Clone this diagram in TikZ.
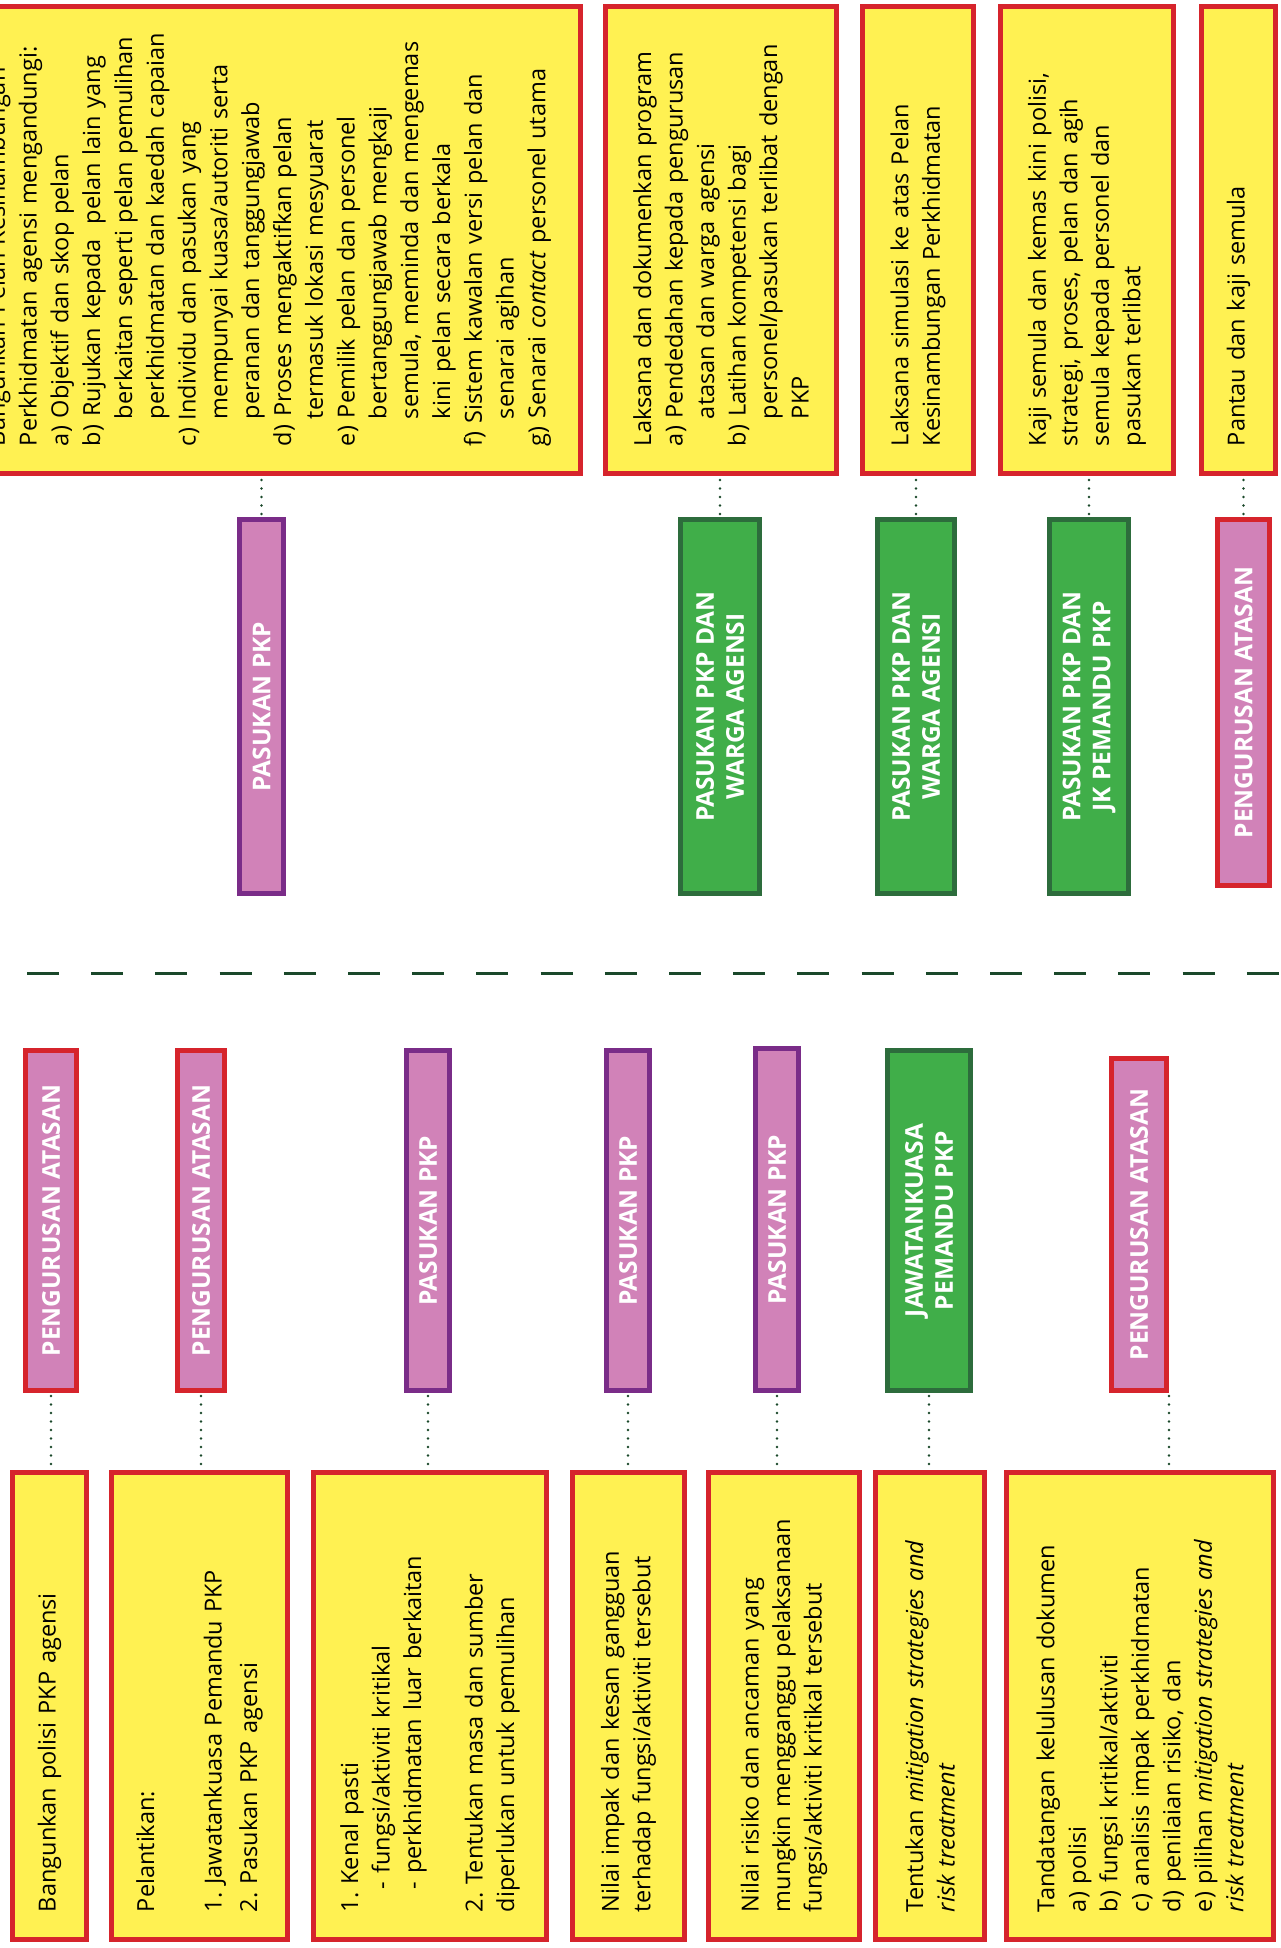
\documentclass[tikz,border=0pt]{standalone}
\usepackage{fontspec}
\setmainfont{Open Sans}
\usepackage{tikz}

\definecolor{boxred}{RGB}{214,36,44}
\definecolor{boxyel}{RGB}{255,241,82}
\definecolor{tagpink}{RGB}{209,130,184}
\definecolor{teampurple}{RGB}{122,44,136}
\definecolor{grpgreen}{RGB}{64,174,73}
\definecolor{grpdark}{RGB}{45,108,60}
\definecolor{linegreen}{RGB}{26,72,42}
\newcommand\onel[1]{\mbox{#1}}
\newcommand\subln[1]{\hspace*{27pt}\mbox{#1}}
\frenchspacing

\begin{document}
\begin{tikzpicture}[x=1pt,y=-1pt,
	every node/.style={rotate=90,inner sep=0pt,line width=5pt},
	box/.style={draw=boxred,fill=boxyel,minimum width=467pt,text width=412pt,align=left,font=\fontsize{23.5}{31.5}\selectfont},
	tag/.style={fill=tagpink,text=white,align=center,font=\fontsize{24.5}{30}\selectfont\bfseries},
	boss/.style={tag,draw=boxred},
	team/.style={tag,draw=teampurple},
	grp/.style={tag,draw=grpdark,fill=grpgreen},
	link/.style={draw=linegreen,line width=2.6pt,line cap=round,dash pattern=on 0pt off 8.5pt,shorten <=3pt,shorten >=3pt}]

\useasboundingbox (0,0) rectangle (1281,1948);

% atas
\node[box,minimum height=623pt,font=\fontsize{23.5}{31.8}\selectfont] (t1) at (269,240) {\onel{Bangunkan Pelan Kesinambungan}\\
	\onel{Perkhidmatan agensi mengandungi:}\\
	\onel{a) Objektif dan skop pelan}\\
	\onel{b) Rujukan kepada\ \ pelan lain yang}\\
	\subln{berkaitan seperti pelan pemulihan}\\
	\subln{perkhidmatan dan kaedah capaian}\\
	\onel{c) Individu dan pasukan yang}\\
	\subln{mempunyai kuasa/autoriti serta}\\
	\subln{peranan dan tanggungjawab}\\
	\onel{d) Proses mengaktifkan pelan}\\
	\subln{termasuk lokasi mesyuarat}\\
	\onel{e) Pemilik pelan dan personel}\\
	\subln{bertanggungjawab mengkaji}\\
	\subln{semula, meminda dan mengemas}\\
	\subln{kini pelan secara berkala}\\
	\onel{f) Sistem kawalan versi pelan dan}\\
	\subln{senarai agihan}\\
	\onel{g) Senarai \textit{contact} personel utama}};
\node[box,minimum height=231pt] (t2) at (721,240) {Laksana dan dokumenkan program\\
	a) Pendedahan kepada pengurusan\\
	\subln{atasan dan warga agensi}\\
	b) Latihan kompetensi bagi\\
	\subln{personel/pasukan terlibat dengan}\\
	\subln{PKP}};
\node[box,minimum height=111pt] (t3) at (918,240) {Laksana simulasi ke atas Pelan\\Kesinambungan Perkhidmatan};
\node[box,minimum height=173pt] (t4) at (1087,240) {Kaji semula dan kemas kini polisi,\\strategi, proses, pelan dan agih\\semula kepada personel dan\\pasukan terlibat};
\node[box,minimum height=74pt] (t5) at (1238.5,240) {Pantau dan kaji semula};

\node[team,minimum width=374pt,minimum height=44pt] (p1) at (261.5,706.5) {PASUKAN PKP};
\node[grp,minimum width=374pt,minimum height=79pt] (g1) at (720,706.5) {PASUKAN PKP DAN\\WARGA AGENSI};
\node[grp,minimum width=374pt,minimum height=77pt] (g2) at (916,706.5) {PASUKAN PKP DAN\\WARGA AGENSI};
\node[grp,minimum width=374pt,minimum height=79pt] (g3) at (1089,706.5) {PASUKAN PKP DAN\\JK PEMANDU PKP};
\node[boss,minimum width=366pt,minimum height=52pt] (p5) at (1243.5,702.5) {PENGURUSAN ATASAN};

\path[link] (p1.east) edge (p1.east |- t1.west)
	(g1.east) edge (g1.east |- t2.west)
	(g2.east) edge (g2.east |- t3.west)
	(g3.east) edge (g3.east |- t4.west)
	(p5.east) edge (p5.east |- t5.west);

\coordinate (cut) at (27,973);
\coordinate (cutend) at (1300,973);
\draw[linegreen,line width=3pt,dash pattern=on 32pt off 32.2pt] (cut) -- (cutend);

% bawah
\node[boss,minimum width=340pt,minimum height=51pt] (b1) at (51,1220.5) {PENGURUSAN ATASAN};
\node[boss,minimum width=340pt,minimum height=47pt] (b2) at (201,1220.5) {PENGURUSAN ATASAN};
\node[team,minimum width=340pt,minimum height=43pt] (b3) at (428,1220.5) {PASUKAN PKP};
\node[team,minimum width=340pt,minimum height=43pt] (b4) at (628,1220.5) {PASUKAN PKP};
\node[team,minimum width=342pt,minimum height=43pt] (b5) at (777,1219.5) {PASUKAN PKP};
\node[grp,minimum width=340pt,minimum height=83pt] (b6) at (929,1220.5) {JAWATANKUASA\\PEMANDU PKP};
\node[boss,minimum width=332pt,minimum height=55pt] (b7) at (1139,1224.5) {PENGURUSAN ATASAN};

\node[box,minimum height=74pt] (y1) at (49.5,1706) {Bangunkan polisi PKP agensi};
\node[box,minimum height=176pt] (y2) at (199.5,1706) {Pelantikan:\\[36pt]
	1. Jawatankuasa Pemandu PKP\\[4pt]
	2. Pasukan PKP agensi};
\node[box,minimum height=233pt] (y3) at (430,1706) {1. Kenal pasti\\
	\hspace*{23pt}- fungsi/aktiviti kritikal\\
	\hspace*{23pt}- perkhidmatan luar berkaitan\\[30pt]
	2. Tentukan masa dan sumber\\
	diperlukan untuk pemulihan};
\node[box,minimum height=112pt] (y4) at (628.5,1706) {Nilai impak dan kesan gangguan\\terhadap fungsi/aktiviti tersebut};
\node[box,minimum height=151pt] (y5) at (784,1706) {Nilai risiko dan ancaman yang\\mungkin mengganggu pelaksanaan\\fungsi/aktiviti kritikal tersebut};
\node[box,minimum height=109pt] (y6) at (930,1706) {Tentukan \textit{mitigation strategies and}\\\textit{risk treatment}};
\node[box,minimum height=267pt] (y7) at (1140,1706) {Tandatangan kelulusan dokumen\\
	a) polisi\\
	b) fungsi kritikal/aktiviti\\
	c) analisis impak perkhidmatan\\
	d) penilaian risiko, dan\\
	e) pilihan \textit{mitigation strategies and}\\
	\textit{risk treatment}};

\path[link] (b1.west) edge (b1.west |- y1.east)
	(b2.west) edge (b2.west |- y2.east)
	(b3.west) edge (b3.west |- y3.east)
	(b4.west) edge (b4.west |- y4.east)
	(b5.west) edge (b5.west |- y5.east)
	(b6.west) edge (b6.west |- y6.east)
	(b7.south west) edge (b7.south west |- y7.east);

\end{tikzpicture}
\end{document}
